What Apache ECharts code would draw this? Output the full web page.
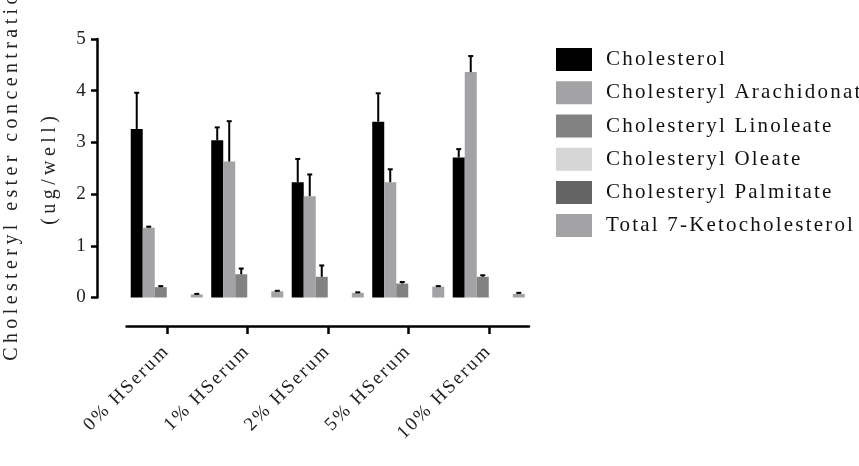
<!DOCTYPE html>
<html>
<head>
<meta charset="utf-8">
<title>Cholesteryl ester concentration</title>
<script src="https://cdn.jsdelivr.net/npm/echarts@6/dist/echarts.min.js"></script>
<style>
  html, body { margin: 0; background: #fff; }
  #chart { width: 859px; height: 466px; }
</style>
</head>
<body>
<div id="chart"></div>
<script>
// --- Data (ug/well, mean and upper error) -----------------------------------
const CATEGORIES = ["0% HSerum", "1% HSerum", "2% HSerum", "5% HSerum", "10% HSerum"];

const CHOLESTEROL      = [3.26, 3.04, 2.23, 3.40, 2.71];
const CHOLESTEROL_ERR  = [0.70, 0.25, 0.45, 0.55, 0.16];
const ARACHIDONATE     = [1.35, 2.63, 1.96, 2.23, 4.36];
const ARACHIDONATE_ERR = [0.02, 0.78, 0.42, 0.25, 0.31];
const LINOLEATE        = [0.20, 0.45, 0.40, 0.27, 0.40];
const LINOLEATE_ERR    = [0.02, 0.11, 0.22, 0.03, 0.03];
const OLEATE           = [0, 0, 0, 0, 0];
const OLEATE_ERR       = [0, 0, 0, 0, 0];
const PALMITATE        = [0, 0, 0, 0, 0];
const PALMITATE_ERR    = [0, 0, 0, 0, 0];
const KETO             = [0.06, 0.12, 0.09, 0.21, 0.07];
const KETO_ERR         = [0.01, 0.01, 0.01, 0.01, 0.02];

const Y_TICKS = { min: 0, max: 5, interval: 1 };

const SERIES = [
  { name: "Cholesterol",              color: "#000000", values: CHOLESTEROL,  err: CHOLESTEROL_ERR },
  { name: "Cholesteryl Arachidonate", color: "#a3a3a5", values: ARACHIDONATE, err: ARACHIDONATE_ERR },
  { name: "Cholesteryl Linoleate",    color: "#828282", values: LINOLEATE,    err: LINOLEATE_ERR },
  { name: "Cholesteryl Oleate",       color: "#d6d6d6", values: OLEATE,       err: OLEATE_ERR },
  { name: "Cholesteryl Palmitate",    color: "#646464", values: PALMITATE,    err: PALMITATE_ERR },
  { name: "Total 7-Ketocholesterol",  color: "#a3a3a5", values: KETO,         err: KETO_ERR },
];

const FONT = "'Liberation Serif', 'Times New Roman', serif";
const CATEGORY_GAP = 0.105;

// The source figure has widely tracked lettering; canvas supports letterSpacing,
// ECharts doesn't expose it, so set it per font size before measuring/drawing.
const TRACKING = { 19: "2.2px", 20: "4.4px", 21: "2.2px" };
for (const fn of ["fillText", "strokeText", "measureText"]) {
  const orig = CanvasRenderingContext2D.prototype[fn];
  CanvasRenderingContext2D.prototype[fn] = function (...args) {
    const m = /(\d+(?:\.\d+)?)px/.exec(this.font);
    this.letterSpacing = (m && TRACKING[Math.round(+m[1])]) || "0px";
    return orig.apply(this, args);
  };
}

// Upper error bar (whisker + small cap) centred on each bar of the group.
function renderErrorBar(params, api) {
  const err = api.value(3);
  if (!err) return null;
  const cat = api.value(0);
  const k = api.value(1);
  const mean = api.value(2);
  const band = api.size([1, 0])[0];
  const groupW = band * (1 - CATEGORY_GAP);
  const barW = groupW / SERIES.length;
  const base = api.coord([cat, mean]);
  const x = base[0] - groupW / 2 + barW * (k + 0.5);
  const yTop = api.coord([cat, mean + err])[1];
  const style = { stroke: "#000", lineWidth: 2 };
  return {
    type: "group",
    children: [
      { type: "line", shape: { x1: x, y1: base[1], x2: x, y2: yTop }, style },
      { type: "line", shape: { x1: x - 2.5, y1: yTop, x2: x + 2.5, y2: yTop }, style },
    ],
  };
}

const errorData = [];
SERIES.forEach((s, k) => s.values.forEach((v, i) => errorData.push([i, k, v, s.err[i]])));

const chart = echarts.init(document.getElementById("chart"), null, { renderer: "canvas" });

chart.setOption({
  animation: false,
  textStyle: { fontFamily: FONT },
  grid: { left: 126.5, right: 330, top: 39, bottom: 168.5, outerBoundsMode: "none" },
  legend: {
    orient: "vertical",
    left: 551,
    top: 43,
    icon: "rect",
    itemWidth: 36,
    itemHeight: 23,
    itemGap: 10,
    data: SERIES.map((s) => s.name),
    textStyle: { fontFamily: FONT, fontSize: 21, color: "#111", padding: [0, 0, 0, 9] },
  },
  xAxis: {
    type: "category",
    data: CATEGORIES,
    offset: 28.5,
    axisLine: { onZero: false, lineStyle: { color: "#000", width: 2.5 } },
    axisTick: { show: true, alignWithLabel: true, length: 8, lineStyle: { color: "#000", width: 2.5 } },
    axisLabel: { rotate: 45, margin: 22, fontFamily: FONT, fontSize: 19, color: "#222" },
  },
  yAxis: {
    type: "value",
    ...Y_TICKS,
    offset: 29.5,
    name: "Cholesteryl ester concentration\n(ug/well)",
    nameLocation: "middle",
    nameRotate: 90,
    nameGap: 28,
    nameTextStyle: { fontFamily: FONT, fontSize: 20, color: "#222", lineHeight: 38 },
    axisLine: { show: true, lineStyle: { color: "#000", width: 2.5 } },
    axisTick: { show: true, length: 6, lineStyle: { color: "#000", width: 2.5 } },
    axisLabel: { margin: 9, fontFamily: FONT, fontSize: 19, color: "#222" },
    splitLine: { show: false },
  },
  series: [
    ...SERIES.map((s) => ({
      type: "bar",
      name: s.name,
      data: s.values,
      barGap: "0%",
      barCategoryGap: CATEGORY_GAP * 100 + "%",
      itemStyle: { color: s.color },
    })),
    {
      type: "custom",
      name: "error",
      renderItem: renderErrorBar,
      encode: { x: 0, y: 2 },
      data: errorData,
      z: 3,
      silent: true,
    },
  ],
});

window.addEventListener("resize", () => chart.resize());
</script>
</body>
</html>
